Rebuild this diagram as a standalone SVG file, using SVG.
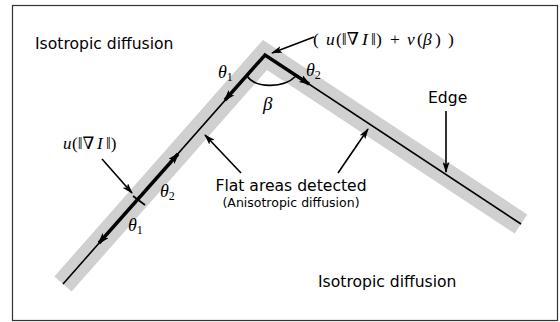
<svg xmlns="http://www.w3.org/2000/svg" width="560" height="322" viewBox="0 0 560 322">
<style>
.lbl{font-family:"DejaVu Sans","Liberation Sans",sans-serif;fill:#000}
.math{font-family:"Liberation Serif","DejaVu Serif",serif;fill:#000}
.it{font-style:italic}
.thin{fill:none;stroke:#000;stroke-width:1.6}
.thick{fill:none;stroke:#000;stroke-width:3.4;stroke-linejoin:miter}
</style>
<defs>
<marker id="ah" viewBox="0 0 12 8" refX="10" refY="4" markerWidth="12" markerHeight="8" orient="auto-start-reverse" markerUnits="userSpaceOnUse">
<path d="M0,0 L12,4 L0,8 L3,4 Z" fill="#000"/>
</marker>
<marker id="ahs" viewBox="0 0 11 7" refX="10" refY="3.5" markerWidth="11" markerHeight="7" orient="auto-start-reverse" markerUnits="userSpaceOnUse">
<path d="M0,0 L11,3.5 L0,7 L2.5,3.5 Z" fill="#000"/>
</marker>
</defs>
<rect x="0" y="0" width="560" height="322" fill="#fff"/>
<g id="band">
<polyline points="63,284 265,55 521,224" fill="none" stroke="#d0d0d0" stroke-width="23" stroke-linejoin="miter"/>
</g>
<g id="frame">
<rect x="12.5" y="5.5" width="545" height="315" fill="none" stroke="#333" stroke-width="1.2"/>
</g>
<g id="connectors">
<polyline id="edge-line" class="thin" points="63,284 265,55 521,224"/>
<path id="theta-top" class="thick" d="M225,100 L265,55 L309,84" marker-start="url(#ah)" marker-end="url(#ah)"/>
<path id="theta-low" class="thick" d="M99,243 L178,154" marker-start="url(#ah)" marker-end="url(#ah)"/>
<line id="tick" x1="133" y1="196" x2="145" y2="205" stroke="#000" stroke-width="1.6"/>
<path id="beta-arc" class="thin" d="M247,76 C255,88 283,89 296,76"/>
<line id="p-u" class="thin" x1="102" y1="159" x2="132" y2="193" marker-end="url(#ahs)"/>
<line id="p-formula" class="thin" x1="314" y1="37" x2="272" y2="53" marker-end="url(#ahs)"/>
<line id="p-flat1" class="thin" x1="241" y1="173" x2="205" y2="135" marker-end="url(#ahs)"/>
<line id="p-flat2" class="thin" x1="338" y1="173" x2="368" y2="129" marker-end="url(#ahs)"/>
<line id="p-edge" class="thin" x1="446" y1="111" x2="446" y2="172" marker-end="url(#ahs)"/>
</g>
<g id="iso-top"><text class="lbl" x="35" y="49" font-size="15.6">Isotropic diffusion</text></g>
<g id="iso-bottom"><text class="lbl" x="318" y="287" font-size="15.6">Isotropic diffusion</text></g>
<g id="edge-label"><text class="lbl" x="428" y="103" font-size="15.6">Edge</text></g>
<g id="flat-label">
<text class="lbl" x="291" y="191" font-size="15.6" text-anchor="middle">Flat areas detected</text>
<text class="lbl" x="291" y="207" font-size="12.5" text-anchor="middle">(Anisotropic diffusion)</text>
</g>
<g id="formula"><text class="math" y="45" font-size="17.5"><tspan x="313">(</tspan><tspan x="326" class="it">u</tspan><tspan x="336">(‖∇</tspan><tspan x="362" class="it">I</tspan><tspan x="371">‖)</tspan><tspan x="390">+</tspan><tspan x="407" class="it">v</tspan><tspan x="417">(</tspan><tspan x="423" class="it">β</tspan><tspan x="435">)</tspan><tspan x="448">)</tspan></text></g>
<g id="u-label"><text class="math" y="149" font-size="17"><tspan x="63" class="it">u</tspan><tspan x="72">(‖∇</tspan><tspan x="97" class="it">I</tspan><tspan x="106">‖)</tspan></text></g>
<g id="theta1-top"><text class="math it" x="218" y="78" font-size="18">θ<tspan font-size="12" font-style="normal" dy="3">1</tspan></text></g>
<g id="theta2-top"><text class="math it" x="306" y="76" font-size="18">θ<tspan font-size="12" font-style="normal" dy="3">2</tspan></text></g>
<g id="beta"><text class="math it" x="263" y="110" font-size="19">β</text></g>
<g id="theta2-low"><text class="math it" x="160" y="197" font-size="18">θ<tspan font-size="12" font-style="normal" dy="3">2</tspan></text></g>
<g id="theta1-low"><text class="math it" x="128" y="231" font-size="18">θ<tspan font-size="12" font-style="normal" dy="3">1</tspan></text></g>
</svg>
